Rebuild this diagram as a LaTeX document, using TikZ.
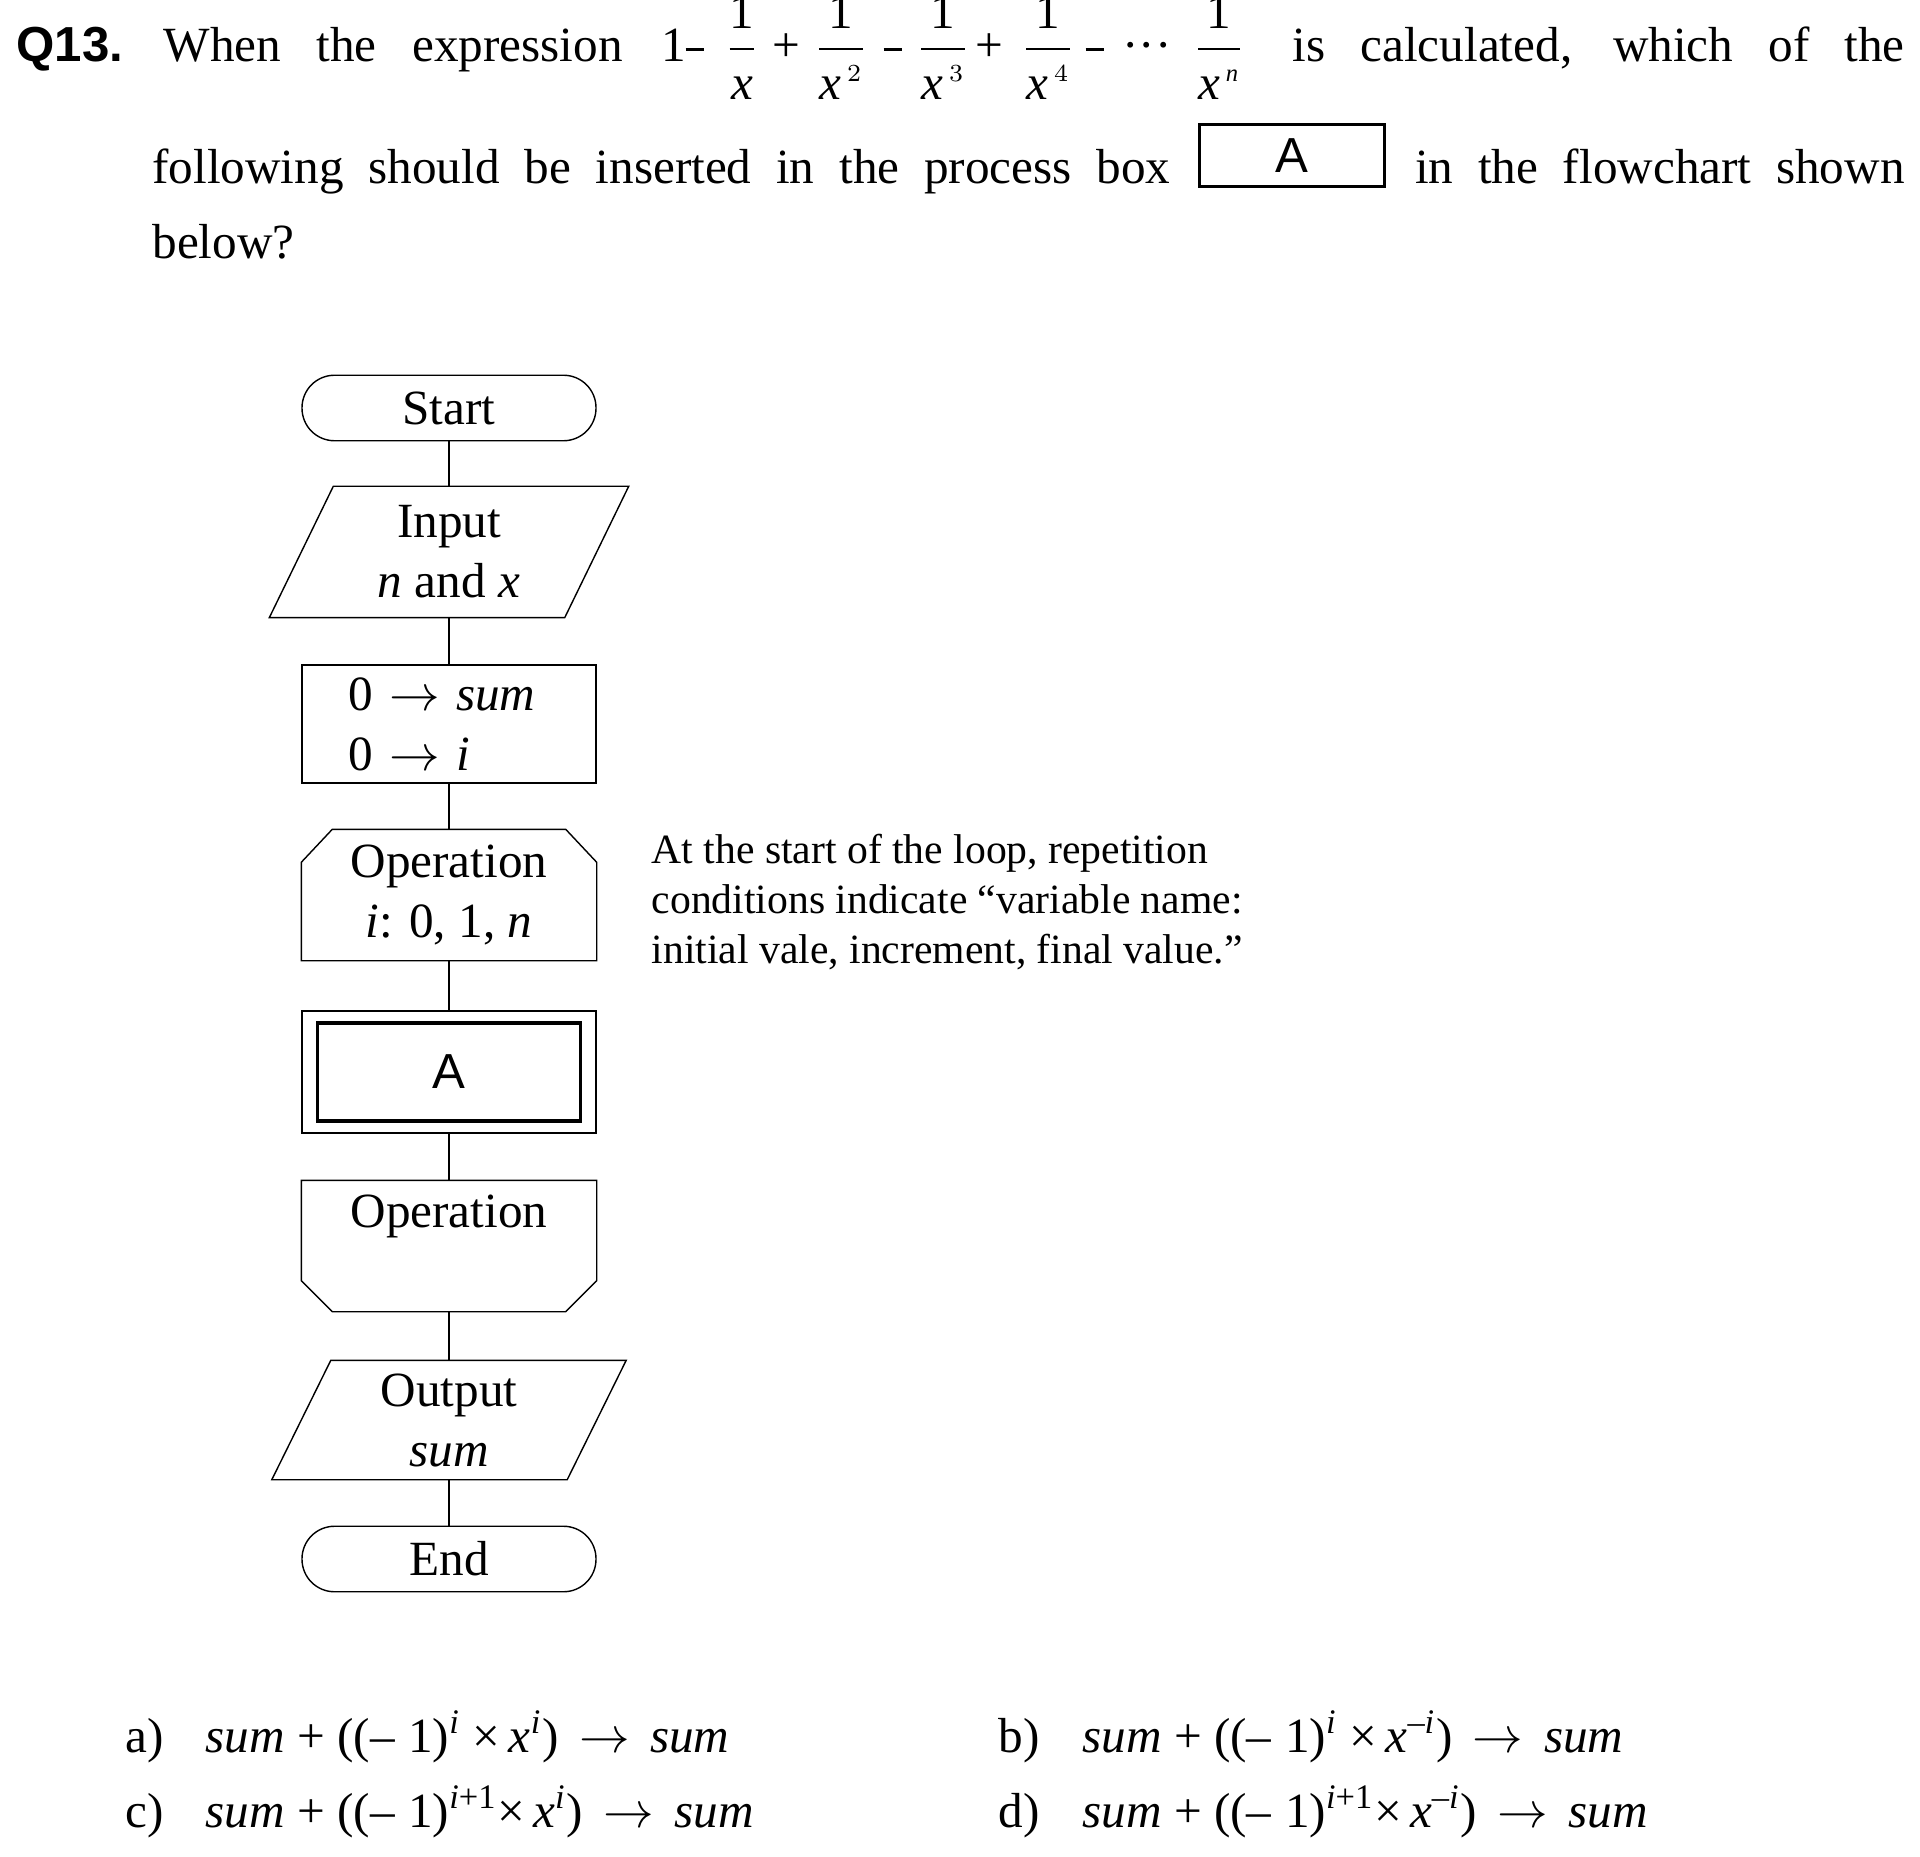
\documentclass[tikz,border=0pt]{standalone}
\usepackage{amsmath}
\usepackage{fontspec}
\setmainfont{Liberation Serif}
\setsansfont{Liberation Sans}
\usetikzlibrary{positioning}

\newcommand{\xfrac}[1]{$\dfrac{\raisebox{-0.01cm}{1}}{\raisebox{-0.03cm}{\textit{x}#1}}$}
\newcommand{\shortminus}{\rule[0.23em]{0.38em}{0.05em}}

\begin{document}
\begin{tikzpicture}[node distance=1.74cm, every node/.style={inner sep=0pt}]
    \tikzset{
        flowbox/.style = {rectangle, line width=0.4pt, minimum width=2.94cm, font=\fontsize{14}{17.07}\selectfont},
        termbox/.style = {flowbox, draw=black, rounded corners=0.325cm, minimum height=0.655cm},
        hidebox/.style = {flowbox, align=center},
        stem/.style = {line width=0.4pt},
        qtext/.style = {anchor=base west, font=\fontsize{14}{16.8}\selectfont},
        term/.style = {anchor=base, font=\fontsize{14}{16.8}\selectfont},
        notetext/.style = {anchor=base west, font=\fontsize{11.85}{14.2}\selectfont},
    }
    \useasboundingbox (0,0) rectangle (19.2,-18.57);

    \node (q_num) [qtext, font=\sffamily\bfseries\fontsize{14}{16.8}\selectfont] at (0.16,-0.62) {Q13.};
    \node (line_1a) [qtext] at (1.63,-0.62) {\makebox[4.59cm][s]{When the expression}};
    \node (ex_one) [term] at (6.735,-0.62) {1};
    \node (ex_m1) [term] at (6.95,-0.62) {\shortminus};
    \node (ex_f1) [term] at (7.42,-0.62) {\xfrac{}};
    \node (ex_p1) [term] at (7.86,-0.62) {+};
    \node (ex_f2) [term] at (8.41,-0.62) {\xfrac{\kern0.06cm$^{\scriptscriptstyle 2}$}};
    \node (ex_m2) [term] at (8.93,-0.62) {\shortminus};
    \node (ex_f3) [term] at (9.43,-0.62) {\xfrac{\kern0.06cm$^{\scriptscriptstyle 3}$}};
    \node (ex_p2) [term] at (9.89,-0.62) {+};
    \node (ex_f4) [term] at (10.48,-0.62) {\xfrac{\kern0.06cm$^{\scriptscriptstyle 4}$}};
    \node (ex_m3) [term] at (10.95,-0.62) {\shortminus};
    \node (ex_dots) [term] at (11.47,-0.62) {···};
    \node (ex_fn) [term] at (12.19,-0.62) {\xfrac{\kern0.06cm$^{\scriptscriptstyle \mathit{n}}$}};
    \node (line_1b) [qtext] at (12.92,-0.62) {\makebox[6.12cm][s]{is calculated, which of the}};
    \node (line_2a) [qtext] at (1.517,-1.84) {\makebox[10.18cm][s]{following should be inserted in the process box}};
    \node (box_hdr) [draw=black, line width=0.85pt, minimum width=1.85cm, minimum height=0.625cm, font=\sffamily\fontsize{14}{16.8}\selectfont] at (12.917,-1.555) {A};
    \node (line_2b) [qtext] at (14.145,-1.84) {\makebox[4.895cm][s]{in the flowchart shown}};
    \node (line_3) [qtext] at (1.517,-2.59) {below?};

    \node (start) [termbox] at (4.49,-4.08) {Start};
    \node (input) [hidebox, minimum height=1.30cm, below of=start, yshift=0.30cm] {Input\\\textit{n} and \textit{x}};
    \node (init) [flowbox, draw=black, minimum height=1.18cm, text width=2.02cm, inner xsep=0.46cm, align=left, below of=input, yshift=0.02cm] {0 $\rightarrow$ \textit{sum}\\0 $\rightarrow$ \textit{i}};
    \node (loop) [hidebox, minimum height=1.30cm, below of=init, yshift=0.03cm] {Operation\\\textit{i}: 0, 1, \textit{n}};
    \node (a_box) [flowbox, draw=black, minimum height=1.22cm, below of=loop, yshift=-0.03cm] {};
    \node (a_inner) [flowbox, draw=black, line width=0.95pt, minimum width=2.63cm, minimum height=0.98cm, font=\sffamily\fontsize{14}{17.07}\selectfont] at (a_box) {A};
    \node (loop_end) [flowbox, minimum height=1.30cm, text height=0.34cm, text depth=0.71cm, below of=a_box] {Operation};
    \node (output) [hidebox, minimum height=1.18cm, below of=loop_end] {Output\\\textit{sum}};
    \node (end) [termbox, below of=output, yshift=0.35cm] {End};

    \draw [stem] ([xshift=0.32cm]input.north west) -- ([xshift=0.32cm]input.north east) -- ([xshift=-0.32cm]input.south east) -- ([xshift=-0.32cm]input.south west) -- cycle;
    \draw [stem] (loop.south west) -- ([yshift=-0.33cm]loop.north west) -- ([xshift=0.31cm]loop.north west) -- ([xshift=-0.31cm]loop.north east) -- ([yshift=-0.33cm]loop.north east) -- (loop.south east) -- cycle;
    \draw [stem] (loop_end.north west) -- ([yshift=0.31cm]loop_end.south west) -- ([xshift=0.31cm]loop_end.south west) -- ([xshift=-0.31cm]loop_end.south east) -- ([yshift=0.31cm]loop_end.south east) -- (loop_end.north east) -- cycle;
    \draw [stem] ([xshift=0.295cm]output.north west) -- ([xshift=0.295cm]output.north east) -- ([xshift=-0.295cm]output.south east) -- ([xshift=-0.295cm]output.south west) -- cycle;

    \draw [stem] (start) -- (input);
    \draw [stem] (input) -- (init);
    \draw [stem] (init) -- (loop);
    \draw [stem] (loop) -- (a_box);
    \draw [stem] (a_box) -- (loop_end);
    \draw [stem] (loop_end) -- (output);
    \draw [stem] (output) -- (end);

    \node (note_1) [notetext] at (6.51,-8.64) {At the start of the loop, repetition};
    \node (note_2) [notetext] at (6.51,-9.135) {conditions indicate ``variable name:};
    \node (note_3) [notetext] at (6.51,-9.63) {initial vale, increment, final value.''};

    \node (opt_a) [qtext] at (1.25,-17.52) {a)};
    \node (ans_a) [qtext] at (2.05,-17.52) {\textit{sum} + ((–\;1)\textsuperscript{\textit{i}} ×\,\textit{x}\textsuperscript{\textit{i}})\, $\rightarrow$\, \textit{sum}};
    \node (opt_b) [qtext] at (9.98,-17.52) {b)};
    \node (ans_b) [qtext] at (10.817,-17.52) {\textit{sum} + ((–\;1)\textsuperscript{\textit{i}} ×\,\textit{x}\textsuperscript{–\textit{i}})\, $\rightarrow$\, \textit{sum}};
    \node (opt_c) [qtext] at (1.25,-18.27) {c)};
    \node (ans_c) [qtext] at (2.05,-18.27) {\textit{sum} + ((–\;1)\textsuperscript{\textit{i}+1}×\,\textit{x}\textsuperscript{\textit{i}})\, $\rightarrow$\, \textit{sum}};
    \node (opt_d) [qtext] at (9.98,-18.27) {d)};
    \node (ans_d) [qtext] at (10.817,-18.27) {\textit{sum} + ((–\;1)\textsuperscript{\textit{i}+1}×\,\textit{x}\textsuperscript{–\textit{i}})\, $\rightarrow$\, \textit{sum}};
\end{tikzpicture}
\end{document}
